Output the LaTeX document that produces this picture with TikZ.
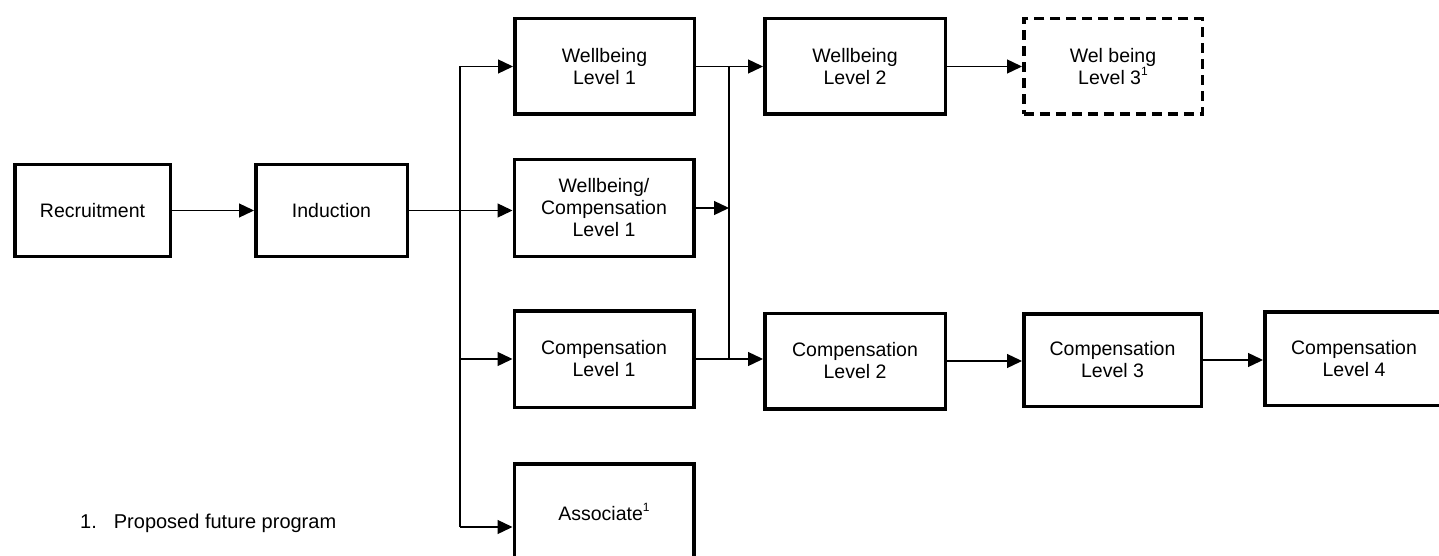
\documentclass[tikz,border=0pt]{standalone}
\usepackage{fontspec}
\setmainfont{Liberation Sans}
\usetikzlibrary{arrows.meta}
\newcommand{\supone}{\raisebox{9pt}{\fontsize{12}{12}\selectfont 1}}
\begin{document}
\begin{tikzpicture}[x=1pt,y=-1pt,
  box/.style={draw, line width=3.5pt, align=center, inner sep=0pt,
    minimum width=179.5pt, minimum height=95.5pt,
    font=\fontsize{19.5}{22}\selectfont},
  dbox/.style={box, dash pattern=on 10pt off 6pt},
  arr/.style={-{Triangle[length=15pt,width=14pt]}, line width=1.3pt},
  conn/.style={line width=1.3pt}]
\useasboundingbox (0,0) rectangle (1439,556);

\node[box, minimum width=155.5pt, minimum height=91.5pt] (rec) at (92.5,210.5) {Recruitment};
\node[box, minimum width=151.5pt, minimum height=91.5pt] (ind) at (331.5,210.5) {Induction};
\node[box] (wl1) at (604.5,66.5) {Wellbeing\\Level 1};
\node[box, minimum height=96.5pt] (wcl1) at (604,208) {Wellbeing/\\Compensation\\Level 1};
\node[box, minimum height=96.5pt] (cl1) at (604,359) {Compensation\\Level 1};
\node[box, minimum height=96.5pt] (as) at (604,512) {Associate\supone};
\node[box, minimum width=180.5pt] (wl2) at (855,66.5) {Wellbeing\\Level 2};
\node[dbox, minimum width=178.5pt] (wl3) at (1113,66.5) {Wel being\\Level 3\supone};
\node[box, minimum width=180.5pt] (cl2) at (855,361) {Compensation\\Level 2};
\node[box, minimum width=177.5pt, minimum height=92.5pt] (cl3) at (1112.5,360) {Compensation\\Level 3};
\node[box, minimum width=178.5pt, minimum height=93.5pt] (cl4) at (1354,358.5) {Compensation\\Level 4};

\node[anchor=west, inner sep=0pt, font=\fontsize{20}{22}\selectfont] (fn) at (80,523) {1.\hspace{17pt}Proposed future program};

\coordinate (tx) at (460,0);
\coordinate (mx) at (729,0);
\coordinate (at) at (460,527);

% recruitment to induction
\draw[arr] (rec.east) -- (rec.east -| ind.west);
% induction to trunk and branches
\draw[arr] (ind.east) -- (ind.east -| wcl1.west);
\draw[conn] (wl1.west -| tx) -- (at);
\draw[arr] (wl1.west -| tx) -- (wl1.west);
\draw[arr] (cl1.west -| tx) -- (cl1.west);
\draw[arr] (at) -- (at -| as.west);
% merge line
\draw[conn] (wl1.east) -- (wl1.east -| mx) -- (cl1.east -| mx);
\draw[arr] (wl1.east -| mx) -- (wl2.west);
\draw[arr] (wcl1.east) -- (wcl1.east -| mx);
\draw[arr] (cl1.east) -- (cl1.east -| cl2.west);
% upper and lower chains
\draw[arr] (wl2.east) -- (wl2.east -| wl3.west);
\draw[arr] (cl2.east) -- (cl2.east -| cl3.west);
\draw[arr] (cl3.east) -- (cl3.east -| cl4.west);
\end{tikzpicture}
\end{document}
